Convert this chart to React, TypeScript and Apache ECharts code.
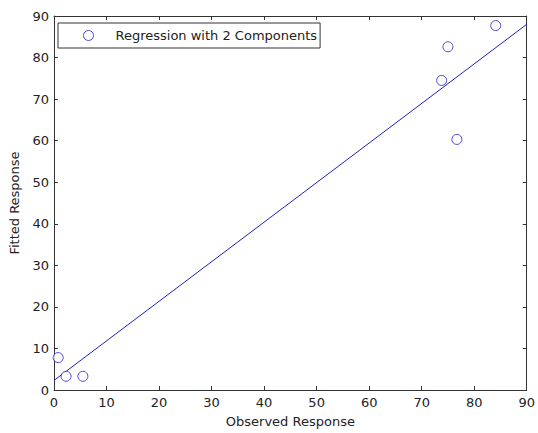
import React, { useEffect, useRef } from "react";
import * as echarts from "echarts";

const observed = [0.8, 2.3, 5.5, 73.8, 75.0, 76.7, 84.1];
const fitted = [7.8, 3.3, 3.3, 74.5, 82.6, 60.3, 87.7];
const lineX = [0, 90];
const lineY = [2.3, 88.0];
const seriesName = "Regression with 2 Components";

export default function App() {
  const ref = useRef<HTMLDivElement>(null);
  useEffect(() => {
    if (!ref.current) return;
    const chart = echarts.init(ref.current, undefined, { renderer: "svg" });
    const blue = "#1f1fc4";
    const axisCommon = {
      min: 0,
      max: 90,
      interval: 10,
      splitLine: { show: false },
      axisLine: { show: true, onZero: false, lineStyle: { color: "#333", width: 1 } },
      axisTick: { show: true, inside: true, length: 4, lineStyle: { color: "#333" } },
    };
    const labelStyle = { color: "#222", fontFamily: "DejaVu Sans, sans-serif", fontSize: 13 };
    chart.setOption({
      animation: false,
      backgroundColor: "#fff",
      grid: { left: 51, top: 16, right: 9, bottom: 41, show: false },
      legend: {
        show: true,
        data: [{ name: seriesName, icon: "circle", itemStyle: { color: "#fff", borderColor: blue, borderWidth: 1 } }],
        left: 58,
        top: 23,
        orient: "vertical",
        backgroundColor: "#fff",
        borderColor: "#333",
        borderWidth: 1,
        borderRadius: 0,
        padding: [6, 3, 6, 25],
        itemGap: 0,
        itemWidth: 10,
        itemHeight: 10,
        textStyle: { ...labelStyle, padding: [0, 0, 0, 17] },
      },
      xAxis: [
        {
          ...axisCommon,
          type: "value",
          position: "bottom",
          name: "Observed Response",
          nameLocation: "middle",
          nameGap: 25,
          nameTextStyle: labelStyle,
          axisLabel: { ...labelStyle, margin: 6 },
        },
        {
          ...axisCommon,
          type: "value",
          position: "top",
          axisLabel: { show: false },
        },
      ],
      yAxis: [
        {
          ...axisCommon,
          type: "value",
          position: "left",
          name: "Fitted Response",
          nameLocation: "middle",
          nameGap: 33,
          nameTextStyle: labelStyle,
          axisLabel: { ...labelStyle, margin: 5 },
        },
        {
          ...axisCommon,
          type: "value",
          position: "right",
          axisLabel: { show: false },
        },
      ],
      series: [
        {
          name: seriesName,
          type: "scatter",
          data: observed.map((x, i) => [x, fitted[i]]),
          symbol: "circle",
          symbolSize: 10,
          itemStyle: { color: "#fff", borderColor: blue, borderWidth: 1 },
          z: 3,
        },
        {
          name: "fit",
          type: "line",
          data: lineX.map((x, i) => [x, lineY[i]]),
          showSymbol: false,
          lineStyle: { color: blue, width: 1 },
          z: 2,
        },
      ],
    });
    return () => chart.dispose();
  }, []);
  return <div ref={ref} style={{ width: 538, height: 433, position: "absolute", left: 0, top: 0 }} />;
}
